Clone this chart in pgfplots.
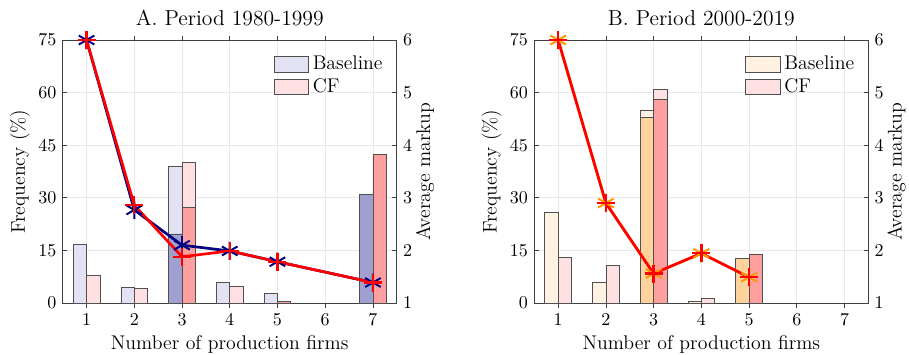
\documentclass[border=0pt]{standalone}
\usepackage{pgfplots}
\pgfplotsset{compat=1.18}
\definecolor{blueL}{HTML}{E2E2F2}
\definecolor{blueD}{HTML}{A0A0D0}
\definecolor{redL}{HTML}{FFE0E2}
\definecolor{redD}{HTML}{FFA0A0}
\definecolor{orL}{HTML}{FFF2E3}
\definecolor{orD}{HTML}{FFD39E}
\definecolor{axc}{HTML}{404040}
\definecolor{navyc}{HTML}{000080}
\definecolor{orc}{HTML}{FF9900}
\definecolor{edgec}{HTML}{505050}
\pgfplotsset{
  base/.style={scale only axis, width=185.6pt, height=146.1pt,
    xmin=0.5, xmax=7.5, xtick={1,...,7},
    axis line style={axc, line width=0.4pt},
    tick style={axc, line width=0.4pt},
    major tick length=2.5pt, tick align=inside,
    tick label style={font=\fontsize{10}{12}\selectfont},
    label style={font=\fontsize{11}{13}\selectfont},
  },
  leftax/.style={base, ymin=0, ymax=75, ytick={0,15,...,75},
    xtick pos=both, xticklabel pos=lower, ytick pos=left,
    grid=major, grid style={gray!18, line width=0.4pt},
    ylabel={Frequency (\%)},
    ylabel style={at={(rel axis cs:0,0.5)}, anchor=base, yshift=21pt},
    xlabel={Number of production firms},
    xlabel style={at={(rel axis cs:0.5,0)}, anchor=base, yshift=-25.6pt},
    title style={at={(rel axis cs:0.5,1)}, anchor=base, yshift=2pt, font=\fontsize{12}{14}\selectfont},
    legend style={at={(rel axis cs:0.63,0.955)}, anchor=north west, draw=none, fill=none,
      font=\fontsize{11}{13}\selectfont, inner sep=0pt, row sep=-0.5pt,
      /tikz/every even column/.style={column sep=0pt}},
    legend cell align=left,
    bar width=0.28, ybar,
    legend image code/.code={\draw[#1] (0pt,-4.4pt) rectangle (19.4pt,4.4pt);},
  },
  rightax/.style={base, ymin=1, ymax=6, ytick={1,...,6},
    axis x line=none, axis y line*=right, ytick pos=right,
    ylabel={Average markup},
    ylabel style={at={(rel axis cs:1,0.5)}, anchor=base, yshift=-18.5pt},
    clip=false,
  },
  barsty/.style={draw=edgec, line width=0.4pt, fill=#1},
}
\begin{document}
\begin{tikzpicture}
\useasboundingbox (0,0) rectangle (505pt,196.67pt);
% ---------------- Panel A
\begin{axis}[leftax, at={(34.83pt,28.33pt)}, anchor=south west, title={A. Period 1980-1999}]
\addplot[barsty=blueL, bar shift=-0.14] coordinates {(1,16.6) (2,4.6) (3,39.0) (4,5.9) (5,2.85)};
\addlegendentry{Baseline}
\addplot[barsty=redL, bar shift=0.14] coordinates {(1,8.0) (2,4.3) (3,40.1) (4,4.7)};
\addlegendentry{CF}
\addplot[barsty=blueD, bar shift=-0.14, forget plot] coordinates {(3,19.7) (7,31.0)};
\addplot[barsty=redD, bar shift=0.14, forget plot] coordinates {(3,27.3) (5,0.4) (7,42.4)};
\end{axis}
\begin{axis}[rightax, at={(34.83pt,28.33pt)}, anchor=south west]
\addplot[navyc, line width=1.5pt, mark=asterisk, mark size=5pt, mark options={line width=1.1pt}]
  coordinates {(1,6.0) (2,2.77) (3,2.10) (4,1.99) (5,1.785) (7,1.39)};
\addplot[red, line width=1.5pt, mark=+, mark size=5pt, mark options={line width=1.3pt}]
  coordinates {(1,6.0) (2,2.86) (3,1.88) (4,1.99) (5,1.785) (7,1.39)};
\end{axis}
% ---------------- Panel B
\begin{axis}[leftax, at={(296.83pt,28.33pt)}, anchor=south west, title={B. Period 2000-2019}]
\addplot[barsty=orL, bar shift=-0.14] coordinates {(1,25.8) (2,6.0) (3,55.0) (4,0.57)};
\addlegendentry{Baseline}
\addplot[barsty=redL, bar shift=0.14] coordinates {(1,13.1) (2,10.7) (3,61.0) (4,1.33)};
\addlegendentry{CF}
\addplot[barsty=orD, bar shift=-0.14, forget plot] coordinates {(3,53.0) (5,12.8)};
\addplot[barsty=redD, bar shift=0.14, forget plot] coordinates {(3,58.1) (5,14.0)};
\end{axis}
\begin{axis}[rightax, at={(296.83pt,28.33pt)}, anchor=south west]
\addplot[orc, line width=1.5pt, mark=asterisk, mark size=5pt, mark options={line width=1.1pt}]
  coordinates {(1,6.0) (2,2.90) (3,1.56) (4,1.945) (5,1.49)};
\addplot[red, line width=1.5pt, mark=+, mark size=5pt, mark options={line width=1.3pt}]
  coordinates {(1,6.0) (2,2.90) (3,1.56) (4,1.945) (5,1.49)};
\end{axis}
\end{tikzpicture}
\end{document}
